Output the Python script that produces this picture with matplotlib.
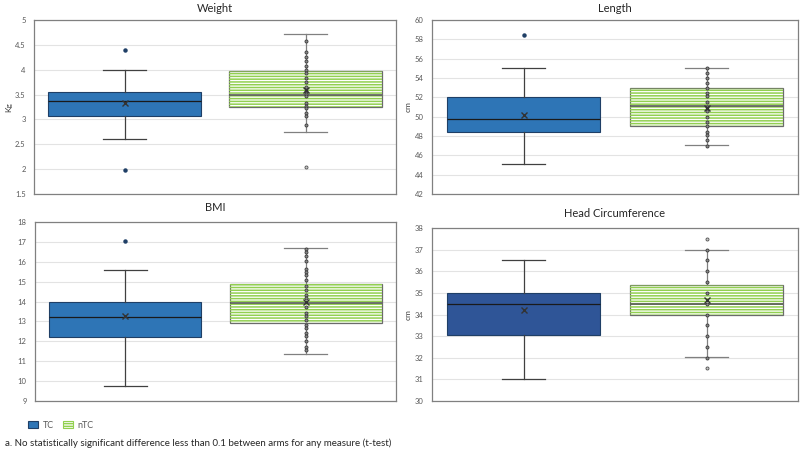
import numpy as np
import matplotlib

matplotlib.use('Agg')
import matplotlib.pyplot as plt
from matplotlib.patches import Rectangle, Patch
from matplotlib.ticker import FuncFormatter

plt.rcParams['font.family'] = ['Lato', 'DejaVu Sans']
plt.rcParams['hatch.linewidth'] = 1.1

# --- data: q1, median, q3, whisker low, whisker high, mean ---
panels = ['Weight', 'Length', 'BMI', 'Head Circumference']
ylabels = ['Kg', 'cm', '', 'cm']
ylims = [(1.5, 5), (42, 60), (9, 18), (30, 38)]
ysteps = [0.5, 2, 1, 1]

tc_q1 = [3.06, 48.37, 12.24, 33.03]
tc_med = [3.38, 49.8, 13.21, 34.5]
tc_q3 = [3.56, 52.0, 13.97, 35.0]
tc_lo = [2.61, 45.1, 9.77, 31.03]
tc_hi = [4.0, 55.0, 15.58, 36.5]
tc_mean = [3.33, 50.2, 13.25, 34.23]
tc_out = [[4.39, 1.99], [58.5], [17.04], []]

ntc_q1 = [3.25, 49.0, 12.9, 34.0]
ntc_med = [3.50, 51.07, 13.95, 34.5]
ntc_q3 = [3.98, 53.0, 14.86, 35.37]
ntc_lo = [2.74, 47.06, 11.35, 32.03]
ntc_hi = [4.72, 55.0, 16.7, 37.0]
ntc_mean = [3.59, 50.87, 14.0, 34.66]
ntc_out = [[2.04], [], [], [37.49, 31.52]]

ntc_points = [
    [4.58, 4.36, 4.26, 4.17, 4.07, 3.99, 3.93, 3.84, 3.75, 3.66, 3.57, 3.52,
     3.47, 3.33, 3.28, 3.22, 3.13, 3.07, 2.88],
    [55.0, 54.5, 54.0, 53.5, 53.0, 52.5, 52.1, 51.5, 51.0, 50.6, 50.0, 49.5,
     49.0, 48.4, 48.1, 47.6, 47.0],
    [16.64, 16.47, 16.27, 16.02, 15.63, 15.5, 15.35, 15.1, 14.76, 14.59, 14.34,
     14.16, 13.75, 13.42, 13.25, 13.08, 12.83, 12.66, 12.44, 12.27, 12.03, 11.74, 11.54],
    [37.0, 36.5, 36.0, 35.5, 35.0, 34.5, 34.0, 33.5, 33.0, 32.5, 32.0],
]

tc_colors = ['#2E75B6', '#2E75B6', '#2E75B6', '#2F5597']
green = '#92D050'
grey = '#808080'

# axes rectangles in figure fractions (from pixel layout of 800x455)
rects = [
    [34 / 800, 1 - 194 / 455, 362 / 800, 174 / 455],
    [432 / 800, 1 - 194 / 455, 366 / 800, 174 / 455],
    [35 / 800, 1 - 401 / 455, 361 / 800, 179 / 455],
    [432 / 800, 1 - 401 / 455, 366 / 800, 173 / 455],
]

fig = plt.figure(figsize=(8, 4.55), dpi=100)

for i, name in enumerate(panels):
    ax = fig.add_axes(rects[i])
    stats = [
        dict(q1=tc_q1[i], med=tc_med[i], q3=tc_q3[i], whislo=tc_lo[i],
             whishi=tc_hi[i], mean=tc_mean[i], fliers=[]),
        dict(q1=ntc_q1[i], med=ntc_med[i], q3=ntc_q3[i], whislo=ntc_lo[i],
             whishi=ntc_hi[i], mean=ntc_mean[i], fliers=[]),
    ]
    bp = ax.bxp(stats, positions=[1, 2], widths=0.84, patch_artist=True,
                showmeans=True, showfliers=False, capwidths=0.24)
    # TC box
    bp['boxes'][0].set(facecolor=tc_colors[i], edgecolor='#1F3F66', linewidth=0.8)
    # nTC box: white with green horizontal stripes
    bp['boxes'][1].set(facecolor='white', edgecolor='#6B6B6B', linewidth=0.9)
    ax.add_patch(Rectangle((2 - 0.42, ntc_q1[i]), 0.84, ntc_q3[i] - ntc_q1[i],
                           facecolor='none', edgecolor=green, hatch='------',
                           linewidth=0, zorder=2.1))
    for k, c in enumerate(['#404040', '#404040', grey, grey]):
        bp['whiskers'][k].set(color=c, linewidth=0.9)
        bp['caps'][k].set(color=c, linewidth=0.9)
    bp['medians'][0].set(color='#1A1A1A', linewidth=0.9)
    bp['medians'][1].set(color='#5A5A5A', linewidth=1.2, zorder=2.2)
    for m in bp['means']:
        m.set(marker='x', markersize=5, markeredgecolor='#333333', markerfacecolor='none',
              markeredgewidth=1.0, zorder=4)

    # points
    ax.plot(np.full(len(tc_out[i]), 1), tc_out[i], 'o', ms=2.2, mfc='#1F3F66',
            mec='#1F3F66', zorder=3)
    ax.plot(np.full(len(ntc_points[i]), 2), ntc_points[i], 'o', ms=2.2,
            mfc='#8A8A8A', mec='#3A3A3A', mew=0.6, zorder=3)
    ax.plot(np.full(len(ntc_out[i]), 2), ntc_out[i], 'o', ms=2.2,
            mfc='#C8C8C8', mec='#505050', mew=0.6, zorder=3)

    ax.set_xlim(0.5, 2.5)
    lo, hi = ylims[i]
    ax.set_ylim(lo, hi)
    ax.set_yticks(np.arange(lo, hi + ysteps[i] / 2, ysteps[i]))
    ax.yaxis.set_major_formatter(FuncFormatter(lambda v, p: f'{v:g}'))
    ax.set_xticks([])
    ax.yaxis.grid(True, color='#E3E3E3', linewidth=0.8)
    ax.set_axisbelow(True)
    ax.tick_params(axis='y', length=0, labelsize=5.5, labelcolor='#595959', pad=6)
    for s in ax.spines.values():
        s.set_color(grey)
        s.set_linewidth(0.9)
    if ylabels[i]:
        ax.set_ylabel(ylabels[i], fontsize=6, color='#404040', labelpad=2)
    ax.set_title(name, fontsize=8, color='#262626', pad=6 if i < 2 else 8)

handles = [
    Patch(facecolor='#2E75B6', edgecolor='#1F3F66', linewidth=0.8, label='TC'),
    Patch(facecolor='white', edgecolor=green, hatch='------', linewidth=0.8, label='nTC'),
]
fig.legend(handles=handles, loc='center left', bbox_to_anchor=(20 / 800, 1 - 425 / 455),
           ncol=2, frameon=False, fontsize=6.5, handlelength=1.1, handleheight=0.9,
           handletextpad=0.5, columnspacing=1.0, labelcolor='#595959')

fig.text(5 / 800, 1 - 443 / 455,
         'a. No statistically significant difference less than 0.1 between arms for any measure (t-test)',
         fontsize=7, color='#262626', va='center')

fig.savefig('out.png', dpi=100)
